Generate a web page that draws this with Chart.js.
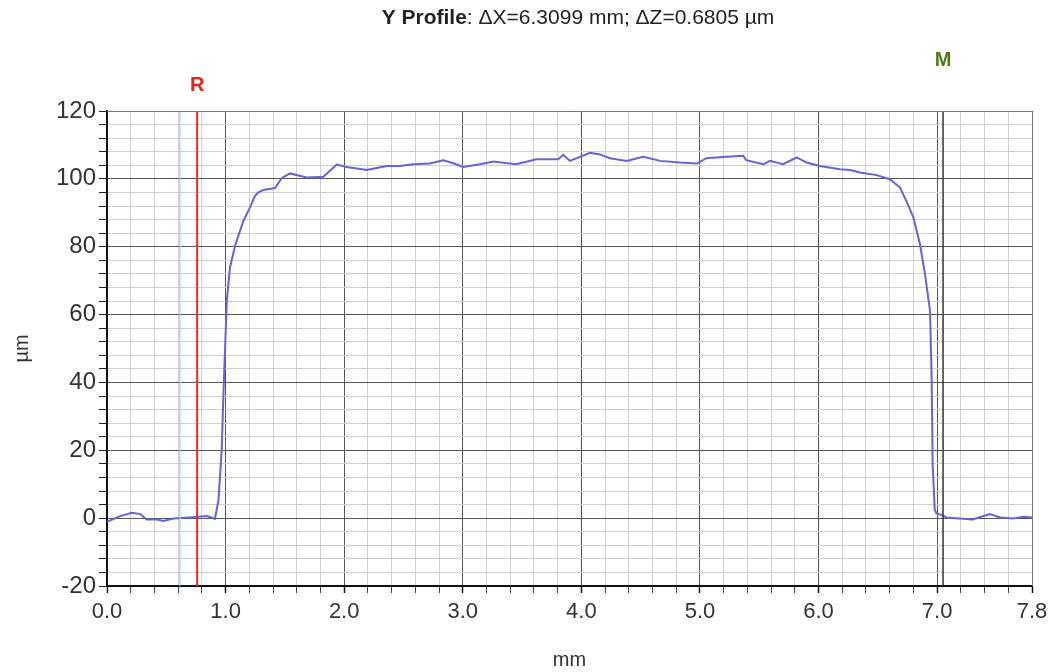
<!DOCTYPE html>
<html>
<head>
<meta charset="utf-8">
<script src="https://cdn.jsdelivr.net/npm/chart.js@4/dist/chart.umd.min.js"></script>
<style>
html,body{margin:0;padding:0;background:#fff;}
#wrap{width:1063px;height:672px;}
</style>
</head>
<body>
<div id="wrap"><canvas id="c" width="1063" height="672"></canvas></div>
<script>
// ---- data ----
const profileX = [0.00,0.11,0.21,0.28,0.335,0.42,0.475,0.56,0.70,0.84,0.91,0.94,0.967,0.98,0.995,1.01,1.037,1.08,1.15,1.206,1.248,1.276,1.318,1.417,1.473,1.543,1.684,1.824,1.937,2.021,2.19,2.358,2.47,2.583,2.72,2.836,2.92,3.004,3.145,3.257,3.45,3.62,3.805,3.847,3.904,4.073,4.157,4.241,4.382,4.522,4.663,4.831,4.972,5.056,5.225,5.365,5.39,5.534,5.59,5.70,5.815,5.90,6.01,6.18,6.265,6.35,6.49,6.60,6.686,6.74,6.80,6.855,6.897,6.94,6.954,6.962,6.98,6.995,7.04,7.08,7.19,7.30,7.445,7.53,7.64,7.73,7.80];
const profileZ = [-1.1,0.6,1.6,1.2,-0.4,-0.4,-0.8,-0.1,0.2,0.6,-0.2,5.3,20,34.7,49.4,64,73.9,80.3,87.6,91.6,95.0,96.0,96.7,97.3,100.2,101.6,100.4,100.6,104.2,103.5,102.6,103.8,103.8,104.3,104.5,105.5,104.6,103.5,104.3,105.1,104.3,105.8,105.8,107.1,105.3,107.7,107.2,106.1,105.3,106.5,105.3,104.8,104.5,106.1,106.5,106.8,105.5,104.3,105.3,104.3,106.3,104.8,103.8,102.8,102.6,101.9,101.1,99.9,97.5,93.5,88.6,80.8,72.0,61.2,40.6,16.1,2.4,1.4,0.9,0.2,-0.1,-0.4,1.2,0.2,-0.1,0.4,0.2];
const cursorNames = ["R", "M"];
const cursorX = [0.76, 7.05];
const auxCursorX = [0.615];
const xRange = [0, 7.8];
const yRange = [-20, 120];
const xMajorLabels = ["0.0","1.0","2.0","3.0","4.0","5.0","6.0","7.0","7.8"];
const titleBold = "Y Profile";
const titleRest = ": \u0394X=6.3099 mm; \u0394Z=0.6805 \u00b5m";
const xTitle = "mm";
const yTitle = "\u00b5m";

// ---- chart ----
const near = (v, s) => Math.abs(v / s - Math.round(v / s)) < 1e-6;
const isXLabel = v => near(v, 1) || Math.abs(v - xRange[1]) < 1e-6;

const profilePoints = profileX.map((x, i) => ({x: x, y: profileZ[i]}));
const vline = x => [{x: x, y: yRange[0]}, {x: x, y: yRange[1]}];
const FONT = '"Liberation Sans", Arial, sans-serif';

const decorPlugin = {
  id: 'decor',
  afterDraw(chart) {
    const ctx = chart.ctx;
    const xs = chart.scales.x;
    const ca = chart.chartArea;
    ctx.save();
    // title
    ctx.textBaseline = 'middle';
    ctx.fillStyle = '#222';
    ctx.font = 'bold 21px ' + FONT;
    const wb = ctx.measureText(titleBold).width;
    ctx.font = '21px ' + FONT;
    const wr = ctx.measureText(titleRest).width;
    const cx = 578;
    let sx = cx - (wb + wr) / 2;
    ctx.textAlign = 'left';
    ctx.font = 'bold 21px ' + FONT;
    ctx.fillText(titleBold, sx, 18);
    ctx.font = '21px ' + FONT;
    ctx.fillText(titleRest, sx + wb, 18);
    // cursor labels
    ctx.textAlign = 'center';
    ctx.font = 'bold 20px ' + FONT;
    ctx.fillStyle = '#e8201c';
    ctx.fillText(cursorNames[0], xs.getPixelForValue(cursorX[0]), 85);
    ctx.fillStyle = '#4e7a1f';
    ctx.fillText(cursorNames[1], xs.getPixelForValue(cursorX[1]), 60);
    // top/right border
    ctx.strokeStyle = '#777';
    ctx.lineWidth = 1;
    ctx.beginPath();
    ctx.moveTo(ca.left, ca.top + 0.5);
    ctx.lineTo(ca.right + 0.5, ca.top + 0.5);
    ctx.lineTo(ca.right + 0.5, ca.bottom);
    ctx.stroke();
    ctx.restore();
  }
};

new Chart(document.getElementById('c'), {
  type: 'scatter',
  data: {
    datasets: [
      {
        label: 'aux',
        data: vline(auxCursorX[0]),
        showLine: true,
        borderColor: 'rgba(160,205,240,0.8)',
        borderWidth: 1.5,
        pointRadius: 0
      },
      {
        label: cursorNames[0],
        data: vline(cursorX[0]),
        showLine: true,
        borderColor: '#ee2a2a',
        borderWidth: 2,
        pointRadius: 0
      },
      {
        label: cursorNames[1],
        data: vline(cursorX[1]),
        showLine: true,
        borderColor: '#333',
        borderWidth: 1.5,
        pointRadius: 0
      },
      {
        label: 'profile',
        data: profilePoints,
        showLine: true,
        borderColor: 'rgb(100,100,215)',
        borderWidth: 2,
        pointRadius: 0,
        tension: 0
      }
    ]
  },
  options: {
    responsive: false,
    animation: false,
    devicePixelRatio: 1,
    layout: { padding: { left: 0, right: 31, top: 111, bottom: 0 } },
    plugins: {
      legend: { display: false },
      title: { display: false },
      tooltip: { enabled: false }
    },
    scales: {
      x: {
        type: 'linear',
        min: xRange[0],
        max: xRange[1],
        afterFit: s => { s.height = 86; },
        afterBuildTicks: s => {
          const t = [];
          for (let i = 0; i <= 39; i++) t.push({value: Math.round(i * 2) / 10});
          s.ticks = t;
        },
        ticks: {
          autoSkip: false,
          maxRotation: 0,
          padding: 6,
          color: '#333',
          font: { family: FONT, size: 22 },
          callback: v => {
            if (!isXLabel(v)) return '';
            const i = xMajorLabels.indexOf(v.toFixed(1));
            return i >= 0 ? xMajorLabels[i] : '';
          }
        },
        grid: {
          color: c => isXLabel(c.tick.value) ? '#555' : '#d0d0d0',
          lineWidth: 1,
          tickLength: 7,
          tickColor: c => isXLabel(c.tick.value) ? '#111' : '#444',
          tickWidth: c => isXLabel(c.tick.value) ? 1.5 : 1
        },
        border: { color: '#111', width: 2 },
        title: {
          display: true,
          text: xTitle,
          color: '#333',
          font: { family: FONT, size: 20 },
          padding: { top: 4, bottom: 0 }
        }
      },
      y: {
        type: 'linear',
        min: yRange[0],
        max: yRange[1],
        afterFit: s => { s.width = 107; },
        ticks: {
          stepSize: 4,
          autoSkip: false,
          padding: 3,
          color: '#333',
          font: { family: FONT, size: 24 },
          callback: v => near(v, 20) ? String(Math.round(v)) : ''
        },
        grid: {
          color: c => near(c.tick.value, 20) ? '#555' : '#d0d0d0',
          lineWidth: 1,
          tickLength: 8,
          tickColor: '#222'
        },
        border: { color: '#111', width: 2 },
        title: {
          display: true,
          text: yTitle,
          color: '#333',
          font: { family: FONT, size: 20 },
          padding: { top: 10, bottom: 0 }
        }
      }
    }
  },
  plugins: [decorPlugin]
});
</script>
</body>
</html>
